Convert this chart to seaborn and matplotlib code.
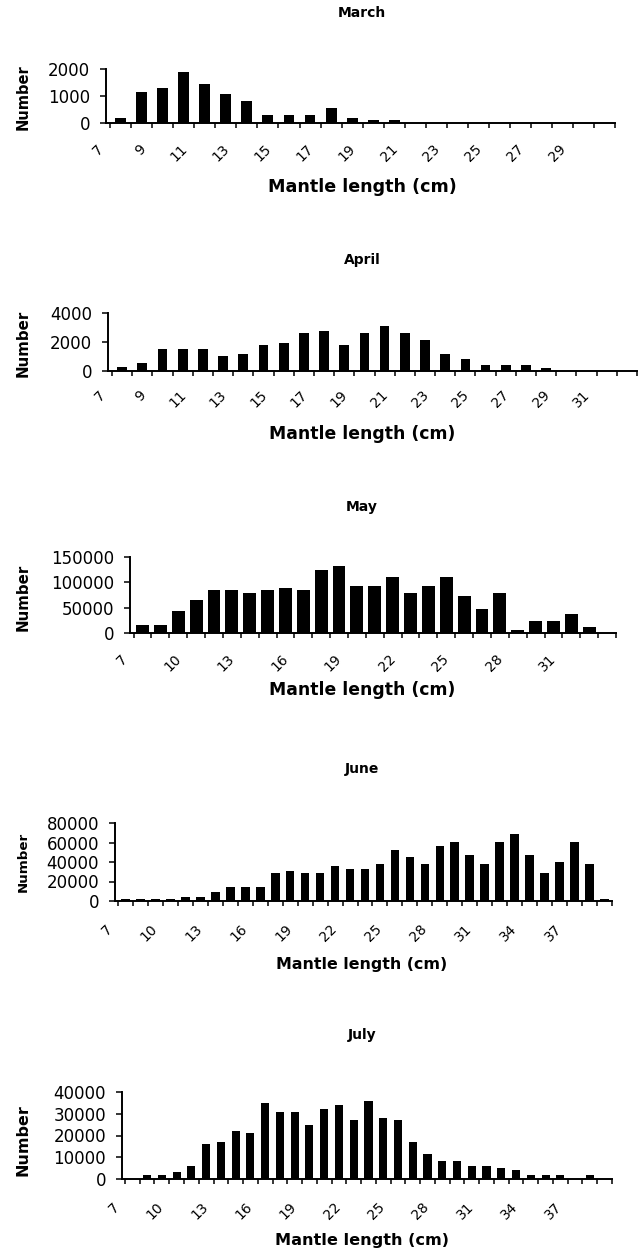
import matplotlib
matplotlib.use("Agg")
import matplotlib.pyplot as plt
import seaborn as sns
import pandas as pd

sns.set_theme(style="ticks")
plt.rcParams["font.family"] = ["DejaVu Sans"]

W, H = 638, 1257

# Monthly mantle-length frequency data (length class in cm -> number of squid)
march_lengths = list(range(7, 31))
march_counts = [200, 1150, 1300, 1880, 1460, 1060, 820, 290, 290, 290, 560, 200,
                110, 100, 0, 0, 0, 0, 0, 0, 0, 0, 0, 0]
march_labels = [7, 9, 11, 13, 15, 17, 19, 21, 23, 25, 27, 29]
march_yticks = [0, 1000, 2000]

april_lengths = list(range(7, 33))
april_counts = [250, 520, 1500, 1500, 1500, 1020, 1160, 1800, 1950, 2600, 2750, 1800,
                2600, 3100, 2600, 2120, 1160, 860, 400, 400, 400, 230, 0, 0, 0, 0]
april_labels = [7, 9, 11, 13, 15, 17, 19, 21, 23, 25, 27, 29, 31]
april_yticks = [0, 2000, 4000]

may_lengths = list(range(7, 34))
may_counts = [15000, 15000, 43000, 66000, 84000, 84000, 79000, 84000, 88000, 84000,
              124000, 133000, 92000, 92000, 110000, 79000, 92000, 110000, 74000,
              47000, 79000, 6000, 24000, 24000, 38000, 11000, 0]
may_labels = [7, 10, 13, 16, 19, 22, 25, 28, 31]
may_yticks = [0, 50000, 100000, 150000]

june_lengths = list(range(7, 40))
june_counts = [2500, 2500, 2500, 2500, 4500, 4500, 9700, 14500, 14500, 14500, 28300,
               31000, 28300, 28300, 36000, 33000, 33000, 38000, 52000, 45000, 38000,
               56500, 61000, 47500, 38000, 61000, 68500, 47500, 28300, 40500, 61000,
               38000, 2500]
june_labels = [7, 10, 13, 16, 19, 22, 25, 28, 31, 34, 37]
june_yticks = [0, 20000, 40000, 60000, 80000]

july_lengths = list(range(7, 40))
july_counts = [0, 2000, 2000, 3000, 6000, 16000, 17000, 22000, 21000, 35000, 31000,
               31000, 25000, 32000, 34000, 27000, 36000, 28000, 27000, 17000, 11500,
               8500, 8500, 6000, 6000, 5000, 4000, 2000, 2000, 2000, 0, 2000, 0]
july_labels = [7, 10, 13, 16, 19, 22, 25, 28, 31, 34, 37]
july_yticks = [0, 10000, 20000, 30000, 40000]

panels = [
    dict(title="March", lengths=march_lengths, counts=march_counts, labels=march_labels,
         yticks=march_yticks, box=(106, 69, 615, 123), title_y=13, xlab_y=187,
         ylab_y=97, width=0.52, xlab="Mantle length (cm)", xlab_fs=12.6, ylab_fs=10.5,
         pad=13.5),
    dict(title="April", lengths=april_lengths, counts=april_counts, labels=april_labels,
         yticks=april_yticks, box=(108, 313, 637, 371), title_y=260, xlab_y=434,
         ylab_y=343, width=0.48, xlab="Mantle length (cm)", xlab_fs=12.4, ylab_fs=10.8,
         pad=12.2),
    dict(title="May", lengths=may_lengths, counts=may_counts, labels=may_labels,
         yticks=may_yticks, box=(130, 557, 616, 633), title_y=507, xlab_y=690,
         ylab_y=597, width=0.72, xlab="Mantle length (cm)", xlab_fs=12.4, ylab_fs=10.8,
         pad=13.5),
    dict(title="June", lengths=june_lengths, counts=june_counts, labels=june_labels,
         yticks=june_yticks, box=(115, 823, 612, 901), title_y=769, xlab_y=965,
         ylab_y=862, width=0.58, xlab="Mantle length (cm)", xlab_fs=11.4, ylab_fs=9.6,
         pad=15),
    dict(title="July", lengths=july_lengths, counts=july_counts, labels=july_labels,
         yticks=july_yticks, box=(122, 1092, 612, 1179), title_y=1035, xlab_y=1241,
         ylab_y=1140, width=0.55, xlab="Mantle length (cm)", xlab_fs=11.6, ylab_fs=11.5,
         pad=15),
]

fig = plt.figure(figsize=(W / 100, H / 100), dpi=100)
fig.patch.set_facecolor("white")

for p in panels:
    x0, y0, x1, y1 = p["box"]
    ax = fig.add_axes([x0 / W, 1 - y1 / H, (x1 - x0) / W, (y1 - y0) / H])
    df = pd.DataFrame({"length": p["lengths"], "count": p["counts"]})
    sns.barplot(data=df, x="length", y="count", native_scale=True, color="black",
                saturation=1, width=p["width"], errorbar=None, linewidth=0, ax=ax)

    first, last = p["lengths"][0], p["lengths"][-1]
    ax.set_xlim(first - 0.5, last + 0.5)
    ax.set_ylim(0, p["yticks"][-1])
    ax.set_facecolor("white")
    ax.grid(False)
    sns.despine(ax=ax)
    for side in ("left", "bottom"):
        ax.spines[side].set_linewidth(1.4)
        ax.spines[side].set_color("black")

    # tick marks between length classes, labels on the minor locator
    edges = [v - 0.5 for v in p["lengths"]] + [last + 0.5]
    ax.set_xticks(edges)
    ax.set_xticklabels([])
    ax.xaxis.remove_overlapping_locs = False
    ax.set_xticks([v - 0.7 for v in p["labels"]], [str(v) for v in p["labels"]], minor=True)
    ax.tick_params(axis="x", which="major", direction="out", length=3.5, width=1.1,
                   color="black")
    ax.tick_params(axis="x", which="minor", length=0, pad=p["pad"], labelsize=10,
                   labelrotation=45, labelcolor="black")
    for lab in ax.get_xticklabels(minor=True):
        lab.set_ha("right")
        lab.set_va("top")

    ax.set_yticks(p["yticks"], [str(v) for v in p["yticks"]])
    ax.tick_params(axis="y", direction="out", length=4.5, width=1.1, pad=7,
                   labelsize=12, color="black", labelcolor="black")

    ax.set_xlabel(p["xlab"], fontsize=p["xlab_fs"], fontweight="bold", color="black")
    ax.xaxis.set_label_coords(362 / W, 1 - p["xlab_y"] / H, transform=fig.transFigure)
    ax.xaxis.label.set_va("center")

    ax.set_ylabel("Number", fontsize=p["ylab_fs"], fontweight="bold", color="black")
    ax.yaxis.set_label_coords(23 / W, 1 - p["ylab_y"] / H, transform=fig.transFigure)
    ax.yaxis.label.set_va("center")

    fig.text(362 / W, 1 - p["title_y"] / H, p["title"], ha="center", va="center",
             fontsize=10, fontweight="bold", color="black")

fig.savefig("out.png", dpi=100, facecolor="white")
